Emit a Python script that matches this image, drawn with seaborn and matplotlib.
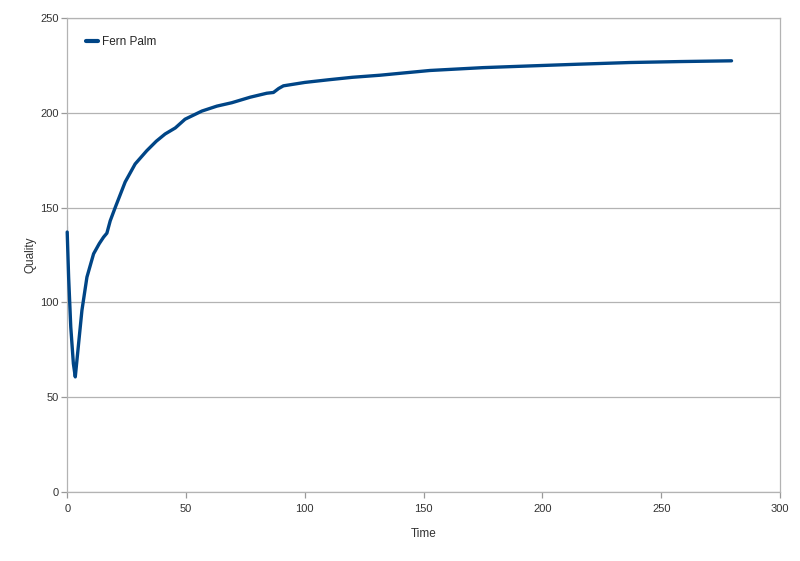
import pandas as pd
import seaborn as sns
import matplotlib.pyplot as plt

# values
time = [0, 0, 0.6, 1.5, 2.6, 3.4, 4.8, 6.2, 8.3, 11.1, 13.5, 15.3, 16.7, 18.1, 20.2,
        24.4, 28.6, 33.5, 37.5, 41.2, 45.5, 49.6, 56.7, 63, 69.3, 77, 84, 86.8,
        89, 91, 100, 110, 120, 131.7, 140, 152.7, 175, 194.8, 215, 236.9, 258, 279.6]
quality = [140.5, 133.7, 113.3, 87, 67.7, 60.7, 78.3, 95.8, 113.3, 125.6, 131, 134.4, 136.5, 143, 150,
           163.5, 173, 180, 185, 188.8, 192, 196.6, 200.9, 203.5, 205.3, 208.2, 210.3, 210.7,
           212.8, 214.2, 216, 217.4, 218.7, 219.8, 220.8, 222.3, 223.8, 224.7, 225.6, 226.5, 227, 227.4]
series_name = "Fern Palm"

df = pd.DataFrame({"Time": time, "Quality": quality, "Series": series_name})

sns.set_style("white")
plt.rcParams['font.family'] = ['Liberation Sans', 'DejaVu Sans']

fig = plt.figure(figsize=(8, 5.61), dpi=100)
ax = fig.add_axes([0.084, 0.123, 0.891, 0.845])

sns.lineplot(data=df, x="Time", y="Quality", hue="Series", palette=["#004586"],
             linewidth=2.4, sort=False, ax=ax)
for ln in ax.lines:
    ln.set_clip_on(False)
    ln.set_zorder(4)
    ln.set_solid_joinstyle("round")

ax.set_xlim(0, 300)
ax.set_ylim(0, 250)
ax.set_xticks(range(0, 301, 50))
ax.set_yticks(range(0, 251, 50))
ax.yaxis.grid(True, color="#b3b3b3", linewidth=0.9)
ax.xaxis.grid(False)
for s in ax.spines.values():
    s.set_color("#b3b3b3")
    s.set_linewidth(0.9)
ax.tick_params(axis="both", bottom=True, left=True, length=4, width=0.9, color="#999999",
               labelsize=8, labelcolor="#333333", direction="out")
ax.tick_params(axis="y", pad=2)
ax.tick_params(axis="x", pad=5)

ax.set_xlabel("Time", fontsize=8.5, color="#333333", labelpad=10)
ax.set_ylabel("Quality", fontsize=8.5, color="#333333", labelpad=3)

leg = ax.legend(loc="upper left", frameon=False, fontsize=8.5, handlelength=1.0,
                handletextpad=0.3, bbox_to_anchor=(0.012, 0.985))
for h in leg.get_lines():
    h.set_linewidth(3)

fig.savefig("out.png", dpi=100, facecolor="white")
